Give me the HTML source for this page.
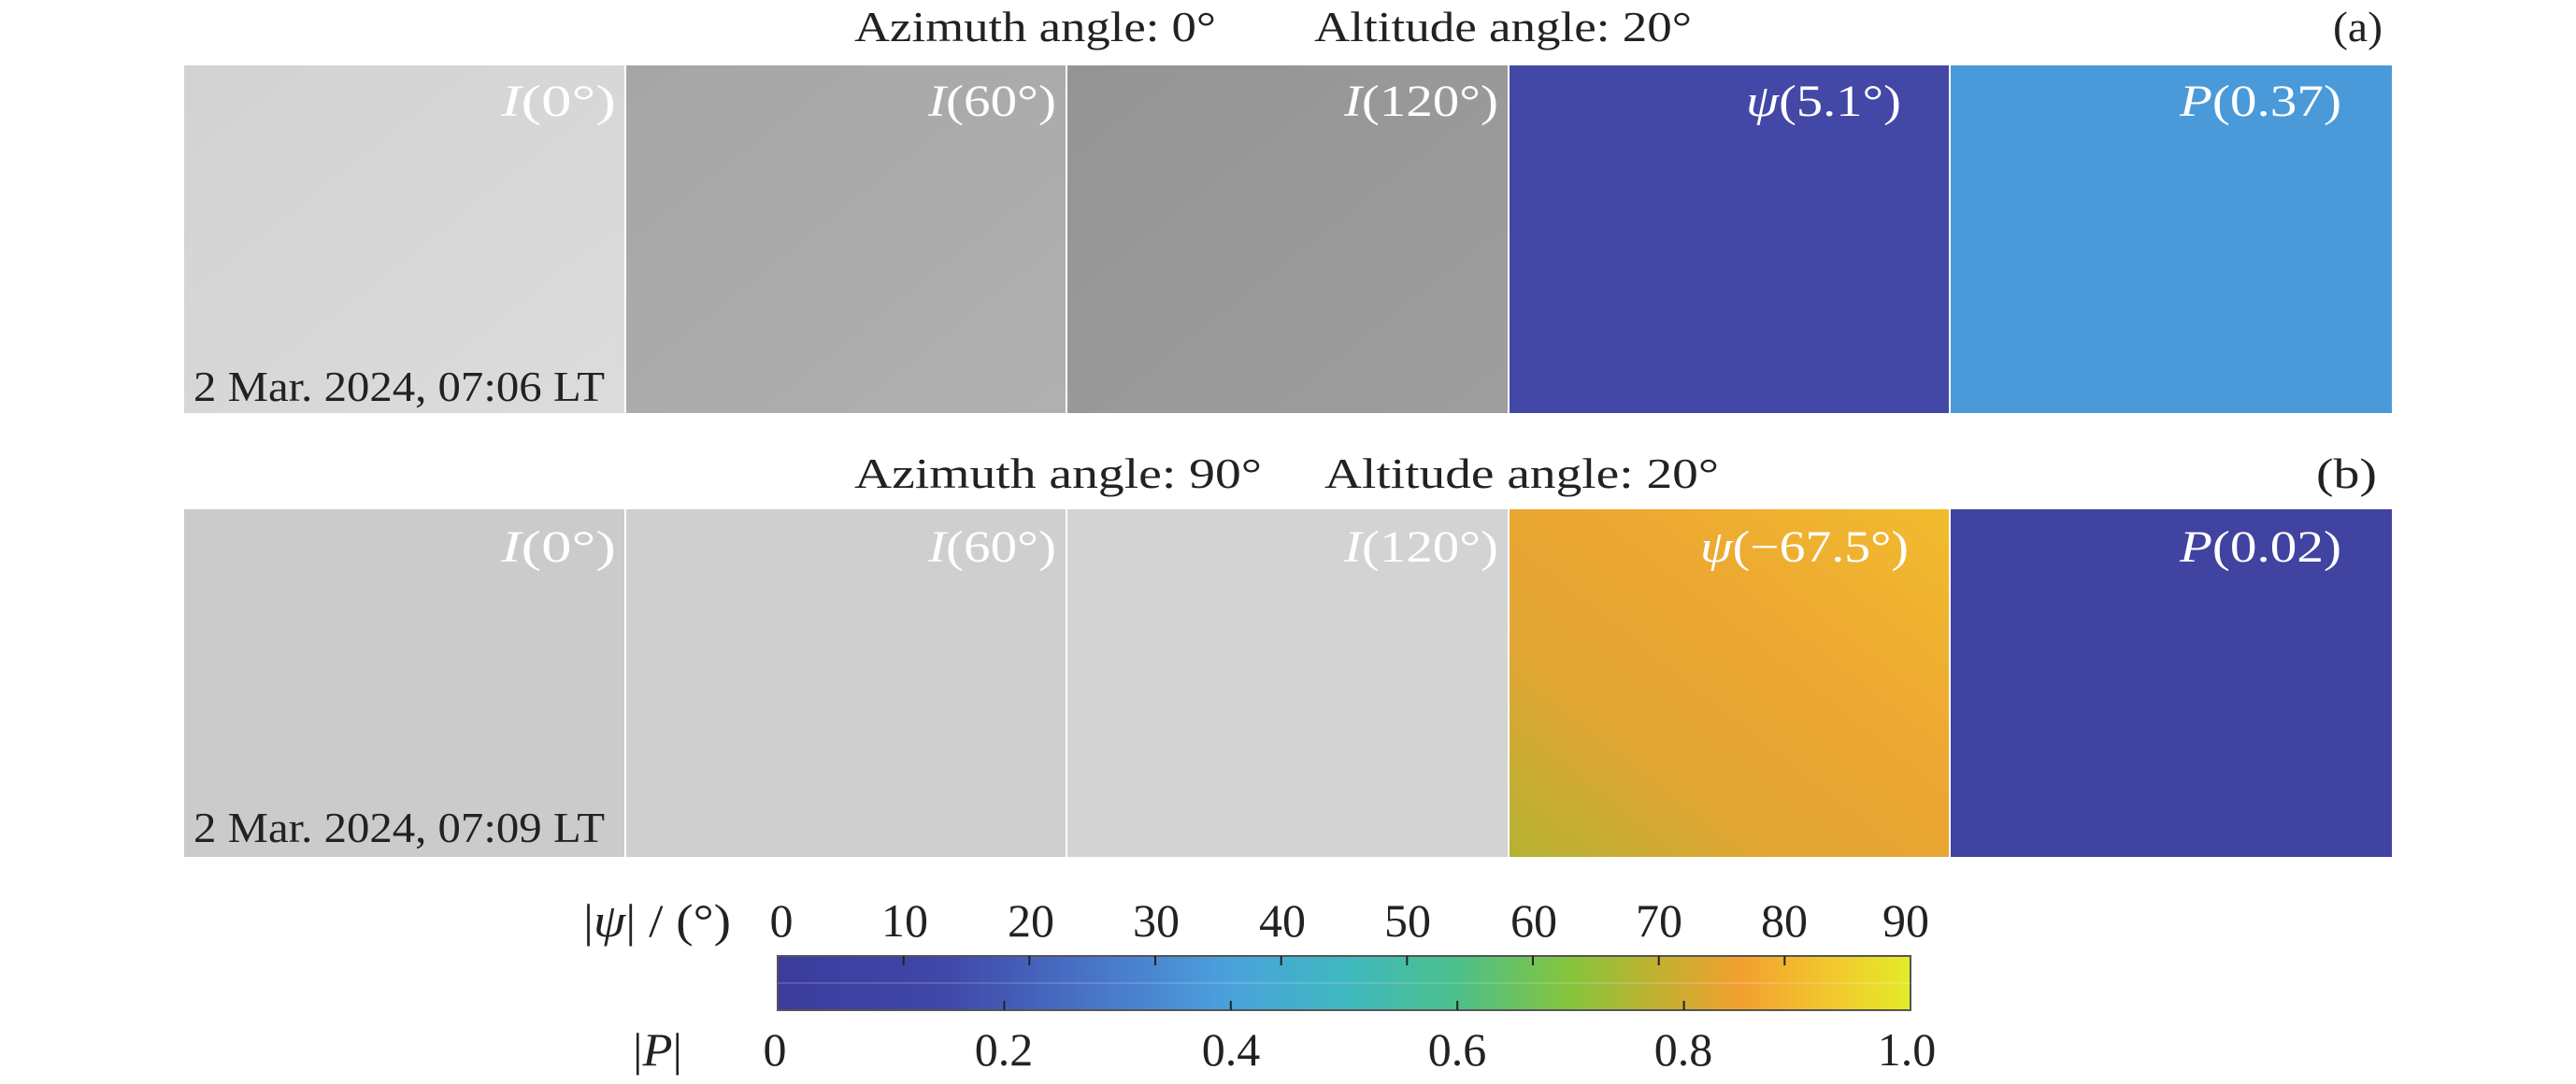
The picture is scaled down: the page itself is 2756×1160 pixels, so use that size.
<!DOCTYPE html>
<html><head><meta charset="utf-8"><style>html,body{margin:0;padding:0;background:#fff}svg{display:block}</style></head>
<body>
<svg width="2756" height="1160" viewBox="0 0 2756 1160" xmlns="http://www.w3.org/2000/svg" font-family="'Liberation Serif', serif">
<defs>
<linearGradient id="cb" x1="0" x2="1" y1="0" y2="0">
<stop offset="0" stop-color="#3b3c9c"/>
<stop offset="0.15" stop-color="#4048a8"/>
<stop offset="0.3" stop-color="#4a7ccc"/>
<stop offset="0.4" stop-color="#4aa2dc"/>
<stop offset="0.5" stop-color="#3eb8c0"/>
<stop offset="0.6" stop-color="#4cc08a"/>
<stop offset="0.7" stop-color="#86c43c"/>
<stop offset="0.78" stop-color="#c4b030"/>
<stop offset="0.85" stop-color="#f2a030"/>
<stop offset="0.93" stop-color="#f2c82e"/>
<stop offset="1" stop-color="#e4ec28"/>
</linearGradient>
<linearGradient id="orng" x1="0" y1="1" x2="1" y2="0">
<stop offset="0" stop-color="#b4b232"/>
<stop offset="0.3" stop-color="#e2a634"/>
<stop offset="0.6" stop-color="#eca632"/>
<stop offset="1" stop-color="#f2bc2e"/>
</linearGradient>
<linearGradient id="g1" x1="0" y1="0" x2="1" y2="1"><stop offset="0" stop-color="#d2d2d2"/><stop offset="1" stop-color="#dcdcdc"/></linearGradient>
<linearGradient id="g2" x1="0" y1="0" x2="1" y2="1"><stop offset="0" stop-color="#a6a6a6"/><stop offset="1" stop-color="#b0b0b0"/></linearGradient>
<linearGradient id="g3" x1="0" y1="0" x2="1" y2="1"><stop offset="0" stop-color="#949494"/><stop offset="1" stop-color="#9e9e9e"/></linearGradient>
</defs>
<rect width="2756" height="1160" fill="#fff"/>
<!-- titles -->
<g font-size="46" fill="#222">
<text x="914" y="44" textLength="387" lengthAdjust="spacingAndGlyphs">Azimuth angle: 0°</text>
<text x="1406" y="44" textLength="404" lengthAdjust="spacingAndGlyphs">Altitude angle: 20°</text>
<text x="2496" y="44" textLength="53" lengthAdjust="spacingAndGlyphs">(a)</text>
<text x="914" y="522" textLength="436" lengthAdjust="spacingAndGlyphs">Azimuth angle: 90°</text>
<text x="1417" y="522" textLength="422" lengthAdjust="spacingAndGlyphs">Altitude angle: 20°</text>
<text x="2478" y="522" textLength="65" lengthAdjust="spacingAndGlyphs">(b)</text>
</g>
<!-- row a -->
<rect x="197" y="70" width="471" height="372" fill="url(#g1)"/>
<rect x="670" y="70" width="470" height="372" fill="url(#g2)"/>
<rect x="1142" y="70" width="471" height="372" fill="url(#g3)"/>
<rect x="1615" y="70" width="470" height="372" fill="#4347a5"/>
<rect x="2087" y="70" width="472" height="372" fill="#4a9ad9"/>
<!-- row b -->
<rect x="197" y="545" width="471" height="372" fill="#cbcbcb"/>
<rect x="670" y="545" width="470" height="372" fill="#cfcfcf"/>
<rect x="1142" y="545" width="471" height="372" fill="#d3d3d3"/>
<rect x="1615" y="545" width="470" height="372" fill="url(#orng)"/>
<rect x="2087" y="545" width="472" height="372" fill="#4143a1"/>
<!-- panel labels -->
<g font-size="48" fill="#fff">
<text x="536" y="124" textLength="123" lengthAdjust="spacingAndGlyphs"><tspan font-style="italic">I</tspan>(0°)</text>
<text x="993" y="124" textLength="137" lengthAdjust="spacingAndGlyphs"><tspan font-style="italic">I</tspan>(60°)</text>
<text x="1438" y="124" textLength="165" lengthAdjust="spacingAndGlyphs"><tspan font-style="italic">I</tspan>(120°)</text>
<text x="1868" y="124" textLength="166" lengthAdjust="spacingAndGlyphs"><tspan font-style="italic">ψ</tspan>(5.1°)</text>
<text x="2332" y="124" textLength="173" lengthAdjust="spacingAndGlyphs"><tspan font-style="italic">P</tspan>(0.37)</text>
<text x="536" y="601" textLength="123" lengthAdjust="spacingAndGlyphs"><tspan font-style="italic">I</tspan>(0°)</text>
<text x="993" y="601" textLength="137" lengthAdjust="spacingAndGlyphs"><tspan font-style="italic">I</tspan>(60°)</text>
<text x="1438" y="601" textLength="165" lengthAdjust="spacingAndGlyphs"><tspan font-style="italic">I</tspan>(120°)</text>
<text x="1819" y="601" textLength="223" lengthAdjust="spacingAndGlyphs"><tspan font-style="italic">ψ</tspan>(−67.5°)</text>
<text x="2332" y="601" textLength="173" lengthAdjust="spacingAndGlyphs"><tspan font-style="italic">P</tspan>(0.02)</text>
</g>
<g font-size="46" fill="#222">
<text x="207" y="429" textLength="440" lengthAdjust="spacingAndGlyphs">2 Mar. 2024, 07:06 LT</text>
<text x="207" y="901" textLength="440" lengthAdjust="spacingAndGlyphs">2 Mar. 2024, 07:09 LT</text>
</g>
<!-- colorbar -->
<rect x="832" y="1023" width="1212" height="58" fill="url(#cb)" stroke="#555" stroke-width="2"/>
<line x1="832" y1="1052" x2="2044" y2="1052" stroke="#fff" stroke-opacity="0.15" stroke-width="2"/>
<g stroke="#222" stroke-width="2">
<line x1="966.7" y1="1023" x2="966.7" y2="1033"/>
<line x1="1101.3" y1="1023" x2="1101.3" y2="1033"/>
<line x1="1236" y1="1023" x2="1236" y2="1033"/>
<line x1="1370.7" y1="1023" x2="1370.7" y2="1033"/>
<line x1="1505.3" y1="1023" x2="1505.3" y2="1033"/>
<line x1="1640" y1="1023" x2="1640" y2="1033"/>
<line x1="1774.7" y1="1023" x2="1774.7" y2="1033"/>
<line x1="1909.3" y1="1023" x2="1909.3" y2="1033"/>
<line x1="1074.4" y1="1071" x2="1074.4" y2="1081"/>
<line x1="1316.8" y1="1071" x2="1316.8" y2="1081"/>
<line x1="1559.2" y1="1071" x2="1559.2" y2="1081"/>
<line x1="1801.6" y1="1071" x2="1801.6" y2="1081"/>
</g>
<g font-size="50" fill="#222" text-anchor="middle">
<text x="836" y="1002">0</text>
<text x="968" y="1002">10</text>
<text x="1103" y="1002">20</text>
<text x="1237" y="1002">30</text>
<text x="1372" y="1002">40</text>
<text x="1506" y="1002">50</text>
<text x="1641" y="1002">60</text>
<text x="1775" y="1002">70</text>
<text x="1909" y="1002">80</text>
<text x="2039" y="1002">90</text>
<text x="829" y="1140">0</text>
<text x="1074" y="1140">0.2</text>
<text x="1317" y="1140">0.4</text>
<text x="1559" y="1140">0.6</text>
<text x="1801" y="1140">0.8</text>
<text x="2040" y="1140">1.0</text>
</g>
<g font-size="50" fill="#222">
<text x="624" y="1002" textLength="158" lengthAdjust="spacingAndGlyphs">|<tspan font-style="italic">ψ</tspan>| / (°)</text>
<text x="677" y="1140" textLength="53" lengthAdjust="spacingAndGlyphs">|<tspan font-style="italic">P</tspan>|</text>
</g>
</svg>
</body></html>
